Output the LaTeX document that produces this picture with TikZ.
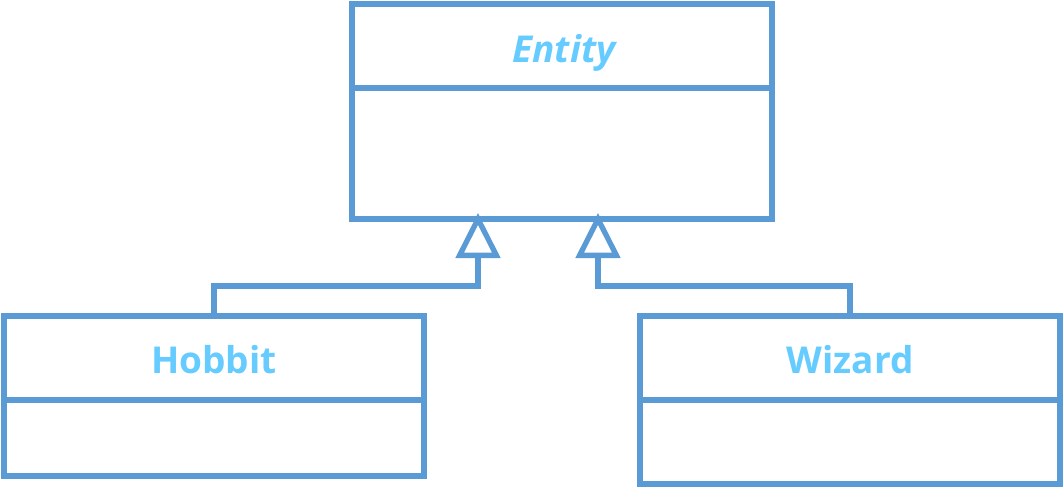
\documentclass[tikz,border=0pt]{standalone}
\usepackage{fontspec}
\setmainfont{Open Sans}
\usetikzlibrary{arrows.meta,calc}
\definecolor{umlline}{HTML}{5B9BD5}
\definecolor{umltext}{HTML}{66CCFF}
\begin{document}
\begin{tikzpicture}[x=1pt,y=-1pt,
  classbox/.style={draw=umlline,line width=5.3pt,minimum width=420pt,inner sep=0pt,outer sep=0pt,fill=white},
  classname/.style={text=umltext,font=\fontsize{37}{40}\selectfont\bfseries,anchor=base,inner sep=0pt},
  divider/.style={draw=umlline,line width=5.3pt},
  inherit/.style={draw=umlline,line width=5.3pt,-{Triangle[open,length=45pt,width=44pt,line width=5.3pt]}}]
\useasboundingbox (0,0) rectangle (1064,488);
% boxes
\node[classbox,minimum height=215pt] (entity) at (562,111.5) {};
\node[classbox,minimum height=160pt] (hobbit) at (214,396) {};
\node[classbox,minimum height=168pt] (wizard) at (850,400) {};
% dividers
\coordinate (edl) at ($(entity.north west)+(0,84)$);
\coordinate (edr) at ($(entity.north east)+(0,84)$);
\draw[divider] (edl) -- (edr);
\coordinate (hdl) at ($(hobbit.north west)+(0,84)$);
\coordinate (hdr) at ($(hobbit.north east)+(0,84)$);
\draw[divider] (hdl) -- (hdr);
\coordinate (wdl) at ($(wizard.north west)+(0,84)$);
\coordinate (wdr) at ($(wizard.north east)+(0,84)$);
\draw[divider] (wdl) -- (wdr);
% names
\node[classname,font=\fontsize{37}{40}\selectfont\bfseries\itshape] (entityname) at (564,62) {Entity};
\node[classname] (hobbitname) at (214,373) {Hobbit};
\node[classname] (wizardname) at (850,373) {Wizard};
% inheritance
\coordinate (htip) at ($(entity.south)+(-84,-6)$);
\coordinate (wtip) at ($(entity.south)+(36,-6)$);
\draw[inherit] (hobbit.north) -- ++(0,-30) -| (htip);
\draw[inherit] (wizard.north) -- ++(0,-30) -| (wtip);
\end{tikzpicture}
\end{document}
